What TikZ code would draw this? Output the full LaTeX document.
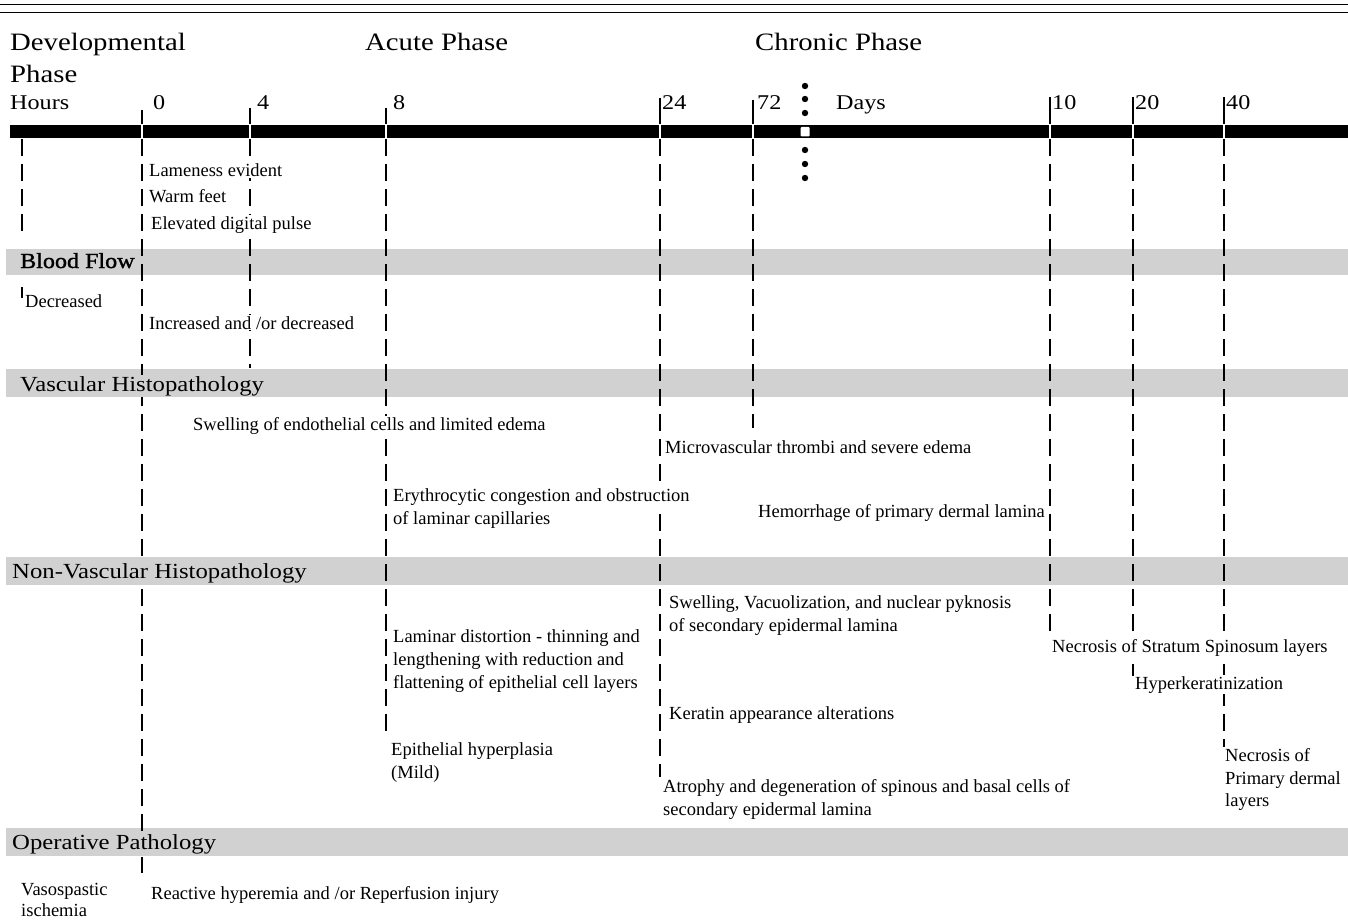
\documentclass[tikz,border=0pt]{standalone}
\usepackage{fontspec}
\setmainfont{Liberation Serif}
\newfontfamily\headfont[FakeStretch=1.15]{Liberation Serif}
\newfontfamily\headboldfont[FakeStretch=1.12,FakeBold=1.3]{Liberation Serif}
\definecolor{bandgray}{gray}{0.82}
\begin{document}
\begin{tikzpicture}[x=1pt,y=-1pt,
  txt/.style={anchor=base west, font=\fontsize{18.5}{22}\selectfont, fill=white, inner sep=1pt},
  head/.style={anchor=base west, font=\headfont\fontsize{25}{30}\selectfont, inner sep=0pt},
  axlbl/.style={anchor=base west, font=\headfont\fontsize{21}{25}\selectfont, inner sep=0pt},
  bandlbl/.style={anchor=base west, font=\headfont\fontsize{21.5}{26}\selectfont, fill=bandgray, inner sep=1pt},
  band/.style={fill=bandgray},
  tickline/.style={line width=1.2pt},
  vline/.style={line width=1.2pt, dash pattern=on 17pt off 8pt},
  slit/.style={white, line width=1.6pt},
  dotmark/.style={fill=black}]
\useasboundingbox (0,0) rectangle (1348,920);
% top rules
\draw[line width=0.8pt] (0,4) -- (1348,4);
\draw[line width=1.2pt] (0,12.5) -- (1348,12.5);
% bands
\fill[band] (6,249) rectangle (1348,275);
\fill[band] (6,369) rectangle (1348,397);
\fill[band] (6,557) rectangle (1348,585);
\fill[band] (6,828) rectangle (1348,856);
% time bar
\fill (10,125) rectangle (1348,138);
% ticks and dashed guide lines
\foreach \n/\x/\t/\e in {h0/142/110/832, h4/250/108/368, h8/386/108/737, h24/660/98/777,
                         h72/753/100/428, d10/1050/97/637, d20/1133/97/676, d40/1224/97/747}{
  \coordinate (top\n) at (\x,\t);
  \coordinate (bar\n) at (\x,125);
  \coordinate (beg\n) at (\x,139);
  \coordinate (end\n) at (\x,\e);
  \draw[tickline] (top\n) -- (bar\n);
  \draw[slit] (\x,124) -- (\x,139);
  \draw[vline] (beg\n) -- (end\n);
}
\coordinate (begL) at (22,139);
\coordinate (endL) at (22,238);
\draw[vline] (begL) -- (endL);
\coordinate (decA) at (22,287);
\coordinate (decB) at (22,298);
\draw[tickline] (decA) -- (decB);
\coordinate (opA) at (142,857);
\coordinate (opB) at (142,873);
\draw[tickline] (opA) -- (opB);
% dotted separator
\foreach \y in {86,99,113,150,164,178} \fill[dotmark] (805,\y) circle (3.2);
\fill[white, rounded corners=1pt] (800.5,127) rectangle (809.5,136.5);
% headings
\node[head] (hdev) at (10,51) {Developmental};
\node[head] (hph) at (10,83) {Phase};
\node[head] (hacute) at (365,51) {Acute Phase};
\node[head] (hchron) at (755,51) {Chronic Phase};
% axis labels
\node[axlbl] (lhours) at (10,110) {Hours};
\node[axlbl] (l0) at (153,110) {0};
\node[axlbl] (l4) at (257,110) {4};
\node[axlbl] (l8) at (393,110) {8};
\node[axlbl] (l24) at (662,110) {24};
\node[axlbl] (l72) at (757,110) {72};
\node[axlbl] (ldays) at (836,110) {Days};
\node[axlbl] (l10) at (1052,110) {10};
\node[axlbl] (l20) at (1135,110) {20};
\node[axlbl] (l40) at (1226,110) {40};
% band labels
\node[bandlbl, font=\headboldfont\fontsize{21.5}{26}\selectfont] (bflow) at (19,268) {Blood Flow};
\node[bandlbl] (bvasc) at (19,391) {Vascular Histopathology};
\node[bandlbl] (bnonv) at (11,578) {Non-Vascular Histopathology};
\node[bandlbl] (boper) at (11,849) {Operative Pathology};
% texts
\node[txt] (t1) at (148,177) {Lameness evident};
\node[txt] (t2) at (148,202) {Warm feet};
\node[txt] (t3) at (150,229) {Elevated digital pulse};
\node[txt] (t4) at (24,307) {Decreased};
\node[txt] (t5) at (148,329) {Increased and /or decreased};
\node[txt] (t6) at (192,430) {Swelling of endothelial cells and limited edema};
\node[txt] (t7) at (664,453) {Microvascular thrombi and severe edema};
\node[txt] (t8a) at (392,501) {Erythrocytic congestion and obstruction};
\node[txt] (t8b) at (392,524) {of laminar capillaries};
\node[txt] (t9) at (757,517) {Hemorrhage of primary dermal lamina};
\node[txt] (t10a) at (668,608) {Swelling, Vacuolization, and nuclear pyknosis};
\node[txt] (t10b) at (668,631) {of secondary epidermal lamina};
\node[txt] (t11a) at (392,642) {Laminar distortion - thinning and};
\node[txt] (t11b) at (392,665) {lengthening with reduction and};
\node[txt] (t11c) at (392,688) {flattening of epithelial cell layers};
\node[txt] (t12) at (1051,652) {Necrosis of Stratum Spinosum layers};
\node[txt] (t13) at (1134,689) {Hyperkeratinization};
\node[txt] (t14) at (668,719) {Keratin appearance alterations};
\node[txt] (t15a) at (390,755) {Epithelial hyperplasia};
\node[txt] (t15b) at (390,778) {(Mild)};
\node[txt] (t16a) at (1224,761) {Necrosis of};
\node[txt] (t16b) at (1224,784) {Primary dermal};
\node[txt] (t16c) at (1224,806) {layers};
\node[txt] (t17a) at (662,792) {Atrophy and degeneration of spinous and basal cells of};
\node[txt] (t17b) at (662,815) {secondary epidermal lamina};
\node[txt] (t18a) at (20,895) {Vasospastic};
\node[txt] (t18b) at (20,916) {ischemia};
\node[txt] (t19) at (150,899) {Reactive hyperemia and /or Reperfusion injury};
\end{tikzpicture}
\end{document}
